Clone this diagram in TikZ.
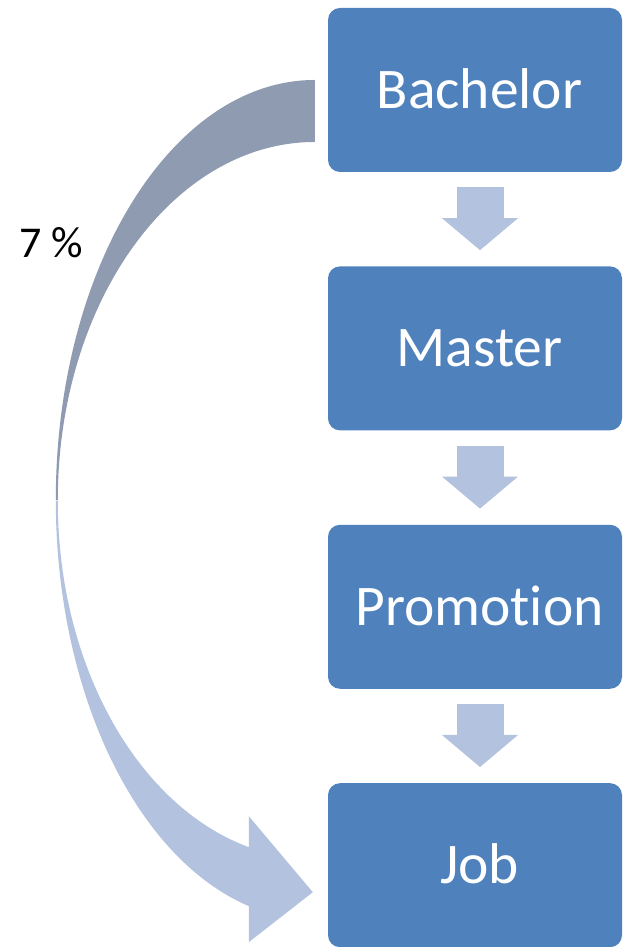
\documentclass[tikz,border=0pt]{standalone}
\usepackage{fontspec}
\setmainfont{Carlito}
\usetikzlibrary{positioning,arrows.meta}
\definecolor{boxblue}{HTML}{4F81BD}
\definecolor{lightblue}{HTML}{B3C2DE}
\definecolor{backgray}{HTML}{8F9BB1}

\begin{document}
\begin{tikzpicture}[x=1pt,y=1pt,line join=round,
    level/.style={fill=boxblue,rounded corners=12pt,minimum width=294pt,minimum height=164pt,
      text=white,font=\fontsize{57.5}{60}\selectfont,text height=36.7pt,text depth=0pt,
      execute at begin node=\hspace*{9pt}},
    steparrow/.style={-{Triangle[length=32pt,width=76pt,line width=0pt]},line width=47pt,
      draw=lightblue,line cap=butt,line join=miter}]
  \useasboundingbox (0,0) rectangle (624,947);

  % Levels
  \node[level] (bach) at (475,857) {Bachelor};
  \node[level,below=94pt of bach] (mas) {Master};
  \node[level,below=94pt of mas] (prom) {Promot\kern0pt ion}; % no ti ligature
  \node[level,below=94pt of prom] (job) {Job};

  % Arrows between levels
  \draw[steparrow] ([xshift=5pt,yshift=-15pt]bach.south) -- ([xshift=5pt,yshift=16pt]mas.north);
  \draw[steparrow] ([xshift=5pt,yshift=-15pt]mas.south) -- ([xshift=5pt,yshift=16pt]prom.north);
  \draw[steparrow] ([xshift=5pt,yshift=-15pt]prom.south) -- ([xshift=5pt,yshift=16pt]job.north);

  % Curved arrow from Bachelor to Job
  \coordinate (tail) at ([xshift=-13pt,yshift=10pt]bach.west);
  \coordinate (tip) at ([xshift=-15pt,yshift=-27pt]job.west);
  \fill[backgray] (tail) arc[start angle=90,end angle=180,x radius=259,y radius=420] coordinate (twist)
    -- ++(2,0) arc[start angle=180,end angle=90,x radius=257,y radius=358] -- cycle;
  \fill[lightblue] (twist) arc[start angle=180,end angle=255.24,x radius=259,y radius=420]
    -- ++(0,-36) -- (tip) -- ++(-64,76) -- ++(0,-31)
    arc[start angle=255.12,end angle=180,x radius=257,y radius=358] -- cycle;

  % Label
  \node[font=\fontsize{44}{48}\selectfont] (share) at (51,704) {7 \%};
\end{tikzpicture}
\end{document}
